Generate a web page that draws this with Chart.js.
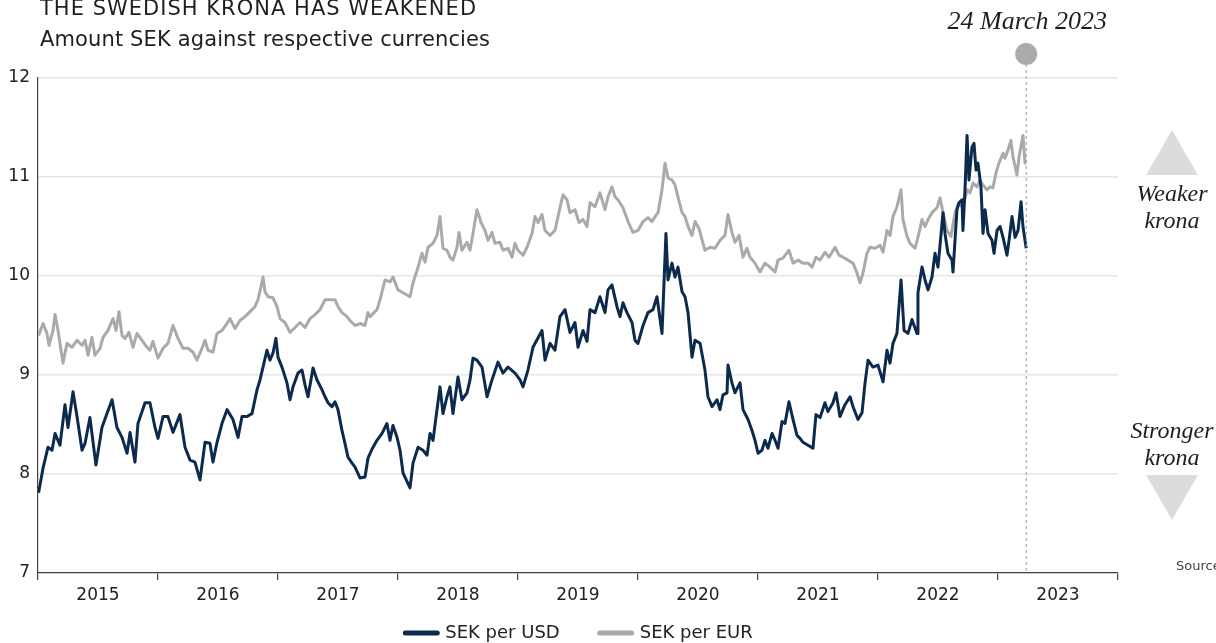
<!DOCTYPE html>
<html lang="en">
<head>
<meta charset="UTF-8">
<title>The Swedish krona has weakened</title>
<script src="https://cdn.jsdelivr.net/npm/chart.js@4.4.1/dist/chart.umd.min.js"></script>
<style>
  html, body { margin: 0; padding: 0; background: #fff; }
</style>
</head>
<body>
<canvas id="chart" width="1216" height="643"></canvas>
<script>
// dates are decimal years, values are SEK per unit of currency
const usdDates = [
  2015.005,2015.042,2015.083,2015.117,2015.142,2015.183,2015.225,2015.25,2015.292,2015.325,2015.367,2015.392,2015.433,2015.483,2015.533,2015.575,2015.617,2015.658,2015.7,2015.742,2015.767,2015.808,2015.833,2015.892,2015.933,2015.975,
  2016.0,2016.042,2016.083,2016.125,2016.183,2016.225,2016.267,2016.308,2016.35,2016.392,2016.433,2016.458,2016.492,2016.533,2016.575,2016.625,2016.667,2016.7,2016.742,2016.783,2016.825,2016.85,2016.875,2016.908,2016.933,2016.958,2016.983,
  2017.0,2017.033,2017.075,2017.1,2017.125,2017.167,2017.2,2017.225,2017.25,2017.292,2017.325,2017.367,2017.392,2017.417,2017.45,2017.475,2017.5,2017.533,2017.558,2017.583,2017.617,2017.642,2017.683,2017.725,2017.75,2017.783,2017.825,2017.867,2017.908,2017.933,2017.958,2017.992,
  2018.017,2018.042,2018.1,2018.125,2018.167,2018.208,2018.242,2018.267,2018.292,2018.325,2018.35,2018.375,2018.408,2018.433,2018.458,2018.5,2018.533,2018.575,2018.6,2018.625,2018.658,2018.7,2018.742,2018.783,2018.833,2018.875,2018.917,2018.975,
  2019.017,2019.042,2019.083,2019.125,2019.2,2019.225,2019.267,2019.308,2019.35,2019.392,2019.433,2019.475,2019.5,2019.542,2019.575,2019.6,2019.642,2019.683,2019.725,2019.75,2019.783,2019.825,2019.85,2019.875,2019.908,2019.95,2019.975,
  2020.0,2020.042,2020.083,2020.125,2020.158,2020.2,2020.233,2020.25,2020.283,2020.308,2020.333,2020.367,2020.392,2020.417,2020.45,2020.475,2020.517,2020.558,2020.583,2020.617,2020.658,2020.683,2020.708,2020.742,2020.75,2020.783,2020.808,2020.85,2020.875,2020.917,2020.95,2020.975,
  2021.0,2021.033,2021.058,2021.083,2021.117,2021.142,2021.167,2021.2,2021.225,2021.258,2021.292,2021.325,2021.35,2021.375,2021.417,2021.458,2021.483,2021.517,2021.558,2021.583,2021.625,2021.65,2021.683,2021.725,2021.767,2021.792,2021.833,2021.867,2021.892,2021.917,2021.958,
  2022.0,2022.042,2022.075,2022.1,2022.125,2022.158,2022.192,2022.217,2022.25,2022.283,2022.325,2022.333,2022.367,2022.392,2022.417,2022.45,2022.475,2022.5,2022.542,2022.558,2022.583,2022.617,2022.625,2022.658,2022.675,2022.7,2022.708,2022.725,2022.742,2022.758,2022.783,2022.8,2022.817,2022.833,2022.858,2022.875,2022.892,2022.917,2022.95,2022.967,2022.992,
  2023.017,2023.042,2023.075,2023.092,2023.117,2023.142,2023.167,2023.192,2023.208,2023.235
];
const usdValues = [
  7.81,8.06,8.27,8.24,8.41,8.29,8.70,8.47,8.83,8.58,8.24,8.31,8.57,8.09,8.47,8.61,8.75,8.47,8.37,8.21,8.42,8.12,8.51,8.72,8.72,8.47,
  8.36,8.58,8.58,8.42,8.60,8.27,8.14,8.12,7.94,8.32,8.31,8.12,8.32,8.51,8.65,8.55,8.37,8.58,8.58,8.61,8.85,8.95,9.08,9.25,9.15,9.22,9.37,
  9.18,9.08,8.92,8.75,8.88,9.02,9.05,8.90,8.78,9.07,8.95,8.85,8.78,8.72,8.68,8.73,8.65,8.44,8.31,8.17,8.11,8.07,7.96,7.97,8.16,8.25,8.34,8.41,8.51,8.34,8.49,8.37,
  8.24,8.01,7.86,8.11,8.27,8.24,8.19,8.41,8.34,8.65,8.88,8.61,8.78,8.88,8.61,8.98,8.75,8.82,8.95,9.17,9.15,9.08,8.78,8.95,9.13,9.02,9.08,9.02,
  8.95,8.88,9.05,9.28,9.45,9.15,9.32,9.25,9.59,9.66,9.43,9.53,9.28,9.45,9.34,9.66,9.63,9.79,9.63,9.86,9.91,9.69,9.59,9.73,9.63,9.53,9.35,
  9.32,9.50,9.63,9.66,9.79,9.42,10.43,9.96,10.13,9.99,10.09,9.84,9.79,9.63,9.18,9.35,9.32,9.05,8.78,8.68,8.75,8.65,8.80,8.82,9.10,8.92,8.82,8.92,8.65,8.55,8.44,8.34,
  8.21,8.24,8.34,8.26,8.41,8.34,8.26,8.53,8.51,8.73,8.55,8.39,8.36,8.32,8.29,8.26,8.60,8.57,8.72,8.63,8.72,8.82,8.58,8.70,8.78,8.68,8.55,8.62,8.92,9.15,9.08,
  9.10,8.93,9.25,9.12,9.32,9.42,9.96,9.45,9.42,9.56,9.42,9.83,10.09,9.96,9.86,9.99,10.23,10.09,10.64,10.43,10.23,10.16,10.04,10.67,10.74,10.77,10.46,10.87,11.42,10.97,11.30,11.34,11.07,11.14,10.90,10.43,10.67,10.43,10.36,10.23,10.46,
  10.50,10.39,10.21,10.36,10.60,10.39,10.46,10.75,10.50,10.28
];

const eurDates = [
  2015.005,2015.042,2015.075,2015.092,2015.125,2015.142,2015.167,2015.192,2015.208,2015.242,2015.283,2015.325,2015.367,2015.392,2015.417,2015.45,2015.475,2015.517,2015.542,2015.583,2015.625,2015.65,2015.675,2015.7,2015.725,2015.758,2015.792,2015.825,2015.867,2015.908,2015.933,2015.958,
  2016.0,2016.042,2016.083,2016.125,2016.167,2016.208,2016.25,2016.292,2016.325,2016.367,2016.392,2016.417,2016.458,2016.492,2016.533,2016.575,2016.6,2016.642,2016.683,2016.725,2016.767,2016.808,2016.833,2016.858,2016.875,2016.892,2016.917,2016.958,2016.992,
  2017.017,2017.058,2017.1,2017.142,2017.183,2017.225,2017.267,2017.308,2017.35,2017.392,2017.433,2017.475,2017.5,2017.533,2017.575,2017.6,2017.642,2017.683,2017.725,2017.75,2017.767,2017.825,2017.85,2017.892,2017.933,2017.958,
  2018.0,2018.042,2018.1,2018.125,2018.167,2018.2,2018.225,2018.25,2018.292,2018.325,2018.35,2018.375,2018.408,2018.433,2018.458,2018.492,2018.508,2018.533,2018.575,2018.6,2018.625,2018.658,2018.692,2018.725,2018.75,2018.783,2018.808,2018.85,2018.875,2018.917,2018.95,2018.975,
  2019.0,2019.042,2019.075,2019.117,2019.142,2019.167,2019.2,2019.225,2019.267,2019.308,2019.35,2019.375,2019.408,2019.433,2019.475,2019.508,2019.542,2019.575,2019.6,2019.642,2019.683,2019.725,2019.75,2019.783,2019.808,2019.833,2019.875,2019.917,2019.958,
  2020.0,2020.042,2020.083,2020.117,2020.142,2020.167,2020.2,2020.225,2020.25,2020.283,2020.308,2020.333,2020.367,2020.392,2020.417,2020.45,2020.475,2020.508,2020.558,2020.6,2020.642,2020.683,2020.725,2020.75,2020.783,2020.808,2020.842,2020.875,2020.908,2020.933,2020.975,
  2021.017,2021.058,2021.1,2021.142,2021.167,2021.208,2021.258,2021.292,2021.333,2021.375,2021.417,2021.45,2021.483,2021.517,2021.558,2021.592,2021.642,2021.675,2021.708,2021.75,2021.792,2021.825,2021.85,2021.875,2021.908,2021.933,2021.975,
  2022.017,2022.042,2022.075,2022.1,2022.125,2022.158,2022.192,2022.208,2022.242,2022.267,2022.308,2022.333,2022.367,2022.392,2022.417,2022.45,2022.492,2022.517,2022.542,2022.575,2022.608,2022.642,2022.667,2022.708,2022.742,2022.767,2022.792,2022.825,2022.85,2022.875,2022.908,2022.933,2022.958,2022.983,
  2023.008,2023.042,2023.058,2023.083,2023.108,2023.125,2023.158,2023.175,2023.208,2023.225,2023.235
];
const eurValues = [
  9.40,9.52,9.42,9.30,9.45,9.61,9.45,9.25,9.12,9.32,9.28,9.35,9.30,9.35,9.20,9.38,9.20,9.27,9.38,9.45,9.57,9.45,9.64,9.40,9.37,9.43,9.28,9.42,9.35,9.28,9.25,9.34,
  9.17,9.27,9.32,9.50,9.37,9.27,9.27,9.23,9.15,9.27,9.35,9.25,9.23,9.42,9.45,9.52,9.57,9.47,9.55,9.59,9.64,9.69,9.76,9.89,9.99,9.84,9.79,9.78,9.69,
  9.57,9.53,9.43,9.48,9.53,9.48,9.57,9.61,9.66,9.76,9.76,9.76,9.69,9.63,9.59,9.55,9.50,9.52,9.50,9.63,9.59,9.66,9.76,9.96,9.94,9.99,
  9.86,9.83,9.79,9.93,10.09,10.23,10.14,10.29,10.33,10.41,10.60,10.28,10.26,10.19,10.16,10.29,10.44,10.26,10.34,10.26,10.43,10.67,10.54,10.46,10.36,10.44,10.33,10.34,10.26,10.28,10.19,10.33,
  10.26,10.21,10.29,10.43,10.60,10.54,10.62,10.46,10.41,10.46,10.69,10.82,10.77,10.64,10.67,10.54,10.57,10.50,10.74,10.70,10.84,10.67,10.80,10.90,10.80,10.77,10.69,10.55,10.44,
  10.46,10.55,10.59,10.55,10.60,10.64,10.87,11.14,10.99,10.97,10.92,10.80,10.64,10.60,10.50,10.41,10.55,10.48,10.26,10.29,10.28,10.36,10.41,10.62,10.44,10.34,10.41,10.19,10.28,10.19,10.13,
  10.04,10.13,10.09,10.04,10.16,10.18,10.26,10.13,10.16,10.13,10.13,10.09,10.19,10.16,10.24,10.19,10.29,10.21,10.19,10.16,10.13,10.03,9.93,10.03,10.23,10.29,10.28,
  10.31,10.24,10.46,10.41,10.60,10.70,10.87,10.57,10.40,10.33,10.28,10.39,10.57,10.50,10.57,10.64,10.69,10.79,10.64,10.46,10.40,10.64,10.72,10.70,10.87,10.84,10.94,10.90,10.97,10.92,10.87,10.90,10.89,11.04,
  11.14,11.24,11.19,11.27,11.37,11.20,11.02,11.20,11.42,11.14,11.14
];

const seriesNames = ['SEK per USD', 'SEK per EUR'];
const seriesColors = ['#0c2a4d', '#aaaaaa'];
const yearLabels = ['2015','2016','2017','2018','2019','2020','2021','2022','2023'];
const markerDate = 2023.235;
const markerLabel = '24 March 2023';

const SANS = '"DejaVu Sans", "Open Sans", sans-serif';
const SERIF = '"Liberation Serif", "DejaVu Serif", serif';

function toPoints(dates, values) {
  return dates.map((d, i) => ({ x: d, y: values[i] }));
}

// stretch a line of text to a given width with letter spacing
function spacedText(ctx, text, x, y, width) {
  ctx.letterSpacing = '0px';
  const w = ctx.measureText(text).width;
  const extra = Math.max(0, (width - w) / (text.length - 1));
  ctx.letterSpacing = extra.toFixed(2) + 'px';
  ctx.fillText(text, x, y);
  ctx.letterSpacing = '0px';
}

// everything drawn around the plot: titles, year labels, marker, side notes, legend
const decorations = {
  id: 'decorations',
  afterDraw(chart) {
    const ctx = chart.ctx;
    const x = chart.scales.x;
    const y = chart.scales.y;
    ctx.save();

    ctx.fillStyle = '#1e1e1e';
    ctx.textAlign = 'left';
    ctx.textBaseline = 'alphabetic';
    ctx.font = '21px ' + SANS;
    spacedText(ctx, 'THE SWEDISH KRONA HAS WEAKENED', 40, 15, 436);
    ctx.font = '21px ' + SANS;
    spacedText(ctx, 'Amount SEK against respective currencies', 40, 46, 450);

    // year labels sit between the yearly ticks
    ctx.font = '17px ' + SANS;
    ctx.fillStyle = '#222';
    ctx.textAlign = 'center';
    ctx.textBaseline = 'middle';
    yearLabels.forEach((lab, i) => {
      ctx.fillText(lab, x.getPixelForValue(Number(lab) + 0.5), y.bottom + 23);
    });

    // date marker
    const mx = x.getPixelForValue(markerDate);
    ctx.strokeStyle = '#9a9a9a';
    ctx.lineWidth = 1;
    ctx.setLineDash([3, 3]);
    ctx.beginPath();
    ctx.moveTo(mx, 64);
    ctx.lineTo(mx, y.bottom);
    ctx.stroke();
    ctx.setLineDash([]);
    ctx.fillStyle = '#ababab';
    ctx.beginPath();
    ctx.arc(mx, 54, 11, 0, Math.PI * 2);
    ctx.fill();
    ctx.fillStyle = '#1e1e1e';
    ctx.font = 'italic 26px ' + SERIF;
    ctx.fillText(markerLabel, mx + 1, 22);

    // weaker / stronger notes
    const cx = 1172;
    ctx.fillStyle = '#dcdcdc';
    ctx.beginPath();
    ctx.moveTo(cx, 130); ctx.lineTo(cx + 26, 175); ctx.lineTo(cx - 26, 175);
    ctx.closePath(); ctx.fill();
    ctx.beginPath();
    ctx.moveTo(cx - 26, 475); ctx.lineTo(cx + 26, 475); ctx.lineTo(cx, 520);
    ctx.closePath(); ctx.fill();
    ctx.fillStyle = '#1e1e1e';
    ctx.font = 'italic 24px ' + SERIF;
    ctx.fillText('Weaker', cx, 195);
    ctx.fillText('krona', cx, 222);
    ctx.fillText('Stronger', cx, 432);
    ctx.fillText('krona', cx, 459);

    ctx.font = '13px ' + SANS;
    ctx.fillStyle = '#444';
    ctx.textAlign = 'left';
    ctx.fillText('Source: Macrobond', 1176, 567);

    // legend
    ctx.font = '18px ' + SANS;
    const sw = 36, gapText = 6, gapItem = 38;
    const widths = seriesNames.map(n => ctx.measureText(n).width);
    const total = widths.reduce((a, w) => a + sw + gapText + w, 0) + gapItem;
    let lx = (x.left + x.right) / 2 - total / 2;
    const ly = 633;
    seriesNames.forEach((n, i) => {
      ctx.strokeStyle = seriesColors[i];
      ctx.lineWidth = 5;
      ctx.lineCap = 'round';
      ctx.beginPath();
      ctx.moveTo(lx + 2, ly);
      ctx.lineTo(lx + sw - 2, ly);
      ctx.stroke();
      ctx.fillStyle = '#222';
      ctx.textAlign = 'left';
      ctx.fillText(n, lx + sw + gapText, ly);
      lx += sw + gapText + widths[i] + gapItem;
    });
    ctx.restore();
  }
};

new Chart(document.getElementById('chart'), {
  type: 'line',
  data: {
    datasets: [
      {
        label: seriesNames[0],
        data: toPoints(usdDates, usdValues),
        borderColor: seriesColors[0],
        backgroundColor: seriesColors[0],
        borderWidth: 3,
        pointRadius: 0,
        tension: 0,
        borderJoinStyle: 'round'
      },
      {
        label: seriesNames[1],
        data: toPoints(eurDates, eurValues),
        borderColor: seriesColors[1],
        backgroundColor: seriesColors[1],
        borderWidth: 3,
        pointRadius: 0,
        tension: 0,
        borderJoinStyle: 'round'
      }
    ]
  },
  options: {
    responsive: false,
    animation: false,
    layout: { padding: { left: 0, right: 98, top: 78, bottom: 0 } },
    plugins: {
      legend: { display: false },
      tooltip: { enabled: false }
    },
    scales: {
      x: {
        type: 'linear',
        min: 2015,
        max: 2024,
        afterFit(scale) { scale.height = 70; },
        ticks: { stepSize: 1, display: false },
        grid: { drawOnChartArea: false, drawTicks: true, tickLength: 7, color: '#444', lineWidth: 1.2 },
        border: { color: '#444', width: 1.2 }
      },
      y: {
        min: 7,
        max: 12,
        afterFit(scale) { scale.width = 38; },
        ticks: {
          stepSize: 1,
          padding: 8,
          color: '#222',
          font: { family: SANS, size: 17 }
        },
        grid: { drawTicks: false, color: '#e6e6e6', lineWidth: 1.5 },
        border: { color: '#444', width: 1.2 }
      }
    }
  },
  plugins: [decorations]
});
</script>
</body>
</html>
